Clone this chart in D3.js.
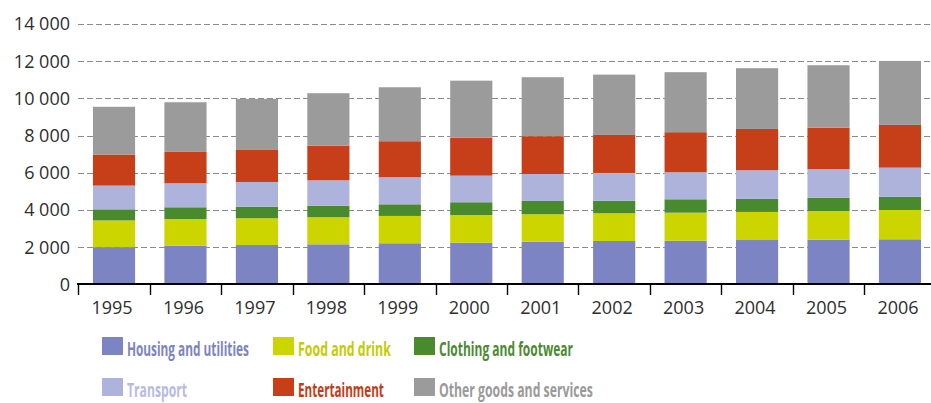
<!DOCTYPE html>
<html>
<head>
<meta charset="utf-8">
<script src="https://cdn.jsdelivr.net/npm/d3@7"></script>
<style>
  html, body { margin: 0; padding: 0; background: #fff; }
  svg { display: block; }
</style>
</head>
<body>
<div id="chart-area"></div>
<script>
// data
const years = ['1995', '1996', '1997', '1998', '1999', '2000', '2001', '2002', '2003', '2004', '2005', '2006'];
const housing = [2010, 2085, 2125, 2160, 2215, 2245, 2300, 2340, 2355, 2390, 2410, 2430];
const food = [1435, 1435, 1435, 1455, 1470, 1490, 1475, 1490, 1505, 1510, 1540, 1575];
const clothing = [595, 630, 625, 620, 625, 685, 715, 675, 720, 700, 715, 715];
const transport = [1275, 1290, 1325, 1365, 1455, 1430, 1450, 1490, 1450, 1540, 1530, 1560];
const entertainment = [1670, 1685, 1720, 1860, 1935, 2040, 2030, 2045, 2155, 2220, 2235, 2295];
const other = [2565, 2670, 2745, 2820, 2900, 3065, 3170, 3240, 3225, 3265, 3355, 3440];
const seriesNames = ['Housing and utilities', 'Food and drink', 'Clothing and footwear',
                     'Transport', 'Entertainment', 'Other goods and services'];
const yTicks = [0, 2000, 4000, 6000, 8000, 10000, 12000, 14000];

const colors = ['#7d84c3', '#cdd500', '#4a8a2e', '#aeb3dc', '#c63f18', '#9b9b9b'];
const textColors = ['#7c83c2', '#c3cc00', '#4b8a2f', '#b7bbe0', '#c23b17', '#9a9a9a'];

const width = 931, height = 403;

const svg = d3.select('#chart-area')
    .append('svg')
        .attr('width', width)
        .attr('height', height);

// build rows for the stack
const keys = ['housing', 'food', 'clothing', 'transport', 'entertainment', 'other'];
const cols = [housing, food, clothing, transport, entertainment, other];
const rows = years.map((yr, i) => {
    const r = { year: yr };
    keys.forEach((k, j) => r[k] = cols[j][i]);
    return r;
});
const stacked = d3.stack().keys(keys)(rows);

// scales
const x = d3.scaleBand()
    .domain(years)
    .range([78.3, 935.7])
    .paddingInner(0.41)
    .paddingOuter(0.205);

const y = d3.scaleLinear()
    .domain([0, 14000])
    .range([284.5, 24]);

const fmt = d3.formatLocale({ decimal: '.', thousands: ' ', grouping: [3], currency: ['', ''] }).format(',d');

// dashed gridlines
svg.append('g')
    .selectAll('line')
    .data(yTicks.filter(d => d > 0))
    .join('line')
        .attr('x1', 78)
        .attr('x2', width)
        .attr('y1', d => Math.round(y(d)) + 0.5)
        .attr('y2', d => Math.round(y(d)) + 0.5)
        .attr('stroke', '#8a8a8a')
        .attr('stroke-width', 1)
        .attr('stroke-dasharray', '6,3');

// y-axis labels
svg.append('g')
    .selectAll('text')
    .data(yTicks)
    .join('text')
        .attr('x', 70)
        .attr('y', d => y(d))
        .attr('dy', '0.35em')
        .attr('text-anchor', 'end')
        .attr('font-family', '"Open Sans", sans-serif')
        .attr('font-size', 18)
        .attr('fill', '#2e2e2e')
        .text(d => fmt(d));

// bars
svg.append('g')
    .selectAll('g')
    .data(stacked)
    .join('g')
        .attr('fill', (d, i) => colors[i])
    .selectAll('rect')
    .data(d => d)
    .join('rect')
        .attr('x', d => x(d.data.year))
        .attr('y', d => y(d[1]))
        .attr('width', x.bandwidth())
        .attr('height', d => y(d[0]) - y(d[1]));

// x-axis
const step = x.step();
const boundaries = d3.range(years.length).map(i => x(years[i]) - step * x.paddingOuter());
const axis = svg.append('g');
axis.append('line')
    .attr('x1', 77)
    .attr('x2', width)
    .attr('y1', 284)
    .attr('y2', 284)
    .attr('stroke', '#000')
    .attr('stroke-width', 2.2);
axis.selectAll('.tick')
    .data(boundaries)
    .join('line')
        .attr('class', 'tick')
        .attr('x1', d => Math.round(d) + 0.5)
        .attr('x2', d => Math.round(d) + 0.5)
        .attr('y1', 284)
        .attr('y2', 295)
        .attr('stroke', '#000')
        .attr('stroke-width', 1.4);
axis.selectAll('.label')
    .data(years)
    .join('text')
        .attr('class', 'label')
        .attr('x', d => x(d) + x.bandwidth() / 2 - 2)
        .attr('y', 314)
        .attr('text-anchor', 'middle')
        .attr('font-family', '"Open Sans", sans-serif')
        .attr('font-size', 18)
        .attr('fill', '#2e2e2e')
        .text(d => d);

// legend
const legendX = [102, 273, 414];
const legendY = [337, 378];
const legendLen = [122, 93, 134, 60, 86, 154];
const legend = svg.append('g')
    .selectAll('g')
    .data(seriesNames)
    .join('g')
        .attr('transform', (d, i) => `translate(${legendX[i % 3]}, ${legendY[Math.floor(i / 3)]})`);
legend.append('rect')
    .attr('width', 21)
    .attr('height', 18)
    .attr('fill', (d, i) => colors[i]);
// condensed look: squeeze each label horizontally to the reference width
legend.append('text')
    .attr('font-family', '"Open Sans", sans-serif')
    .attr('font-weight', 'bold')
    .attr('font-size', 19.5)
    .attr('fill', (d, i) => textColors[i])
    .text(d => d)
    .attr('transform', function (d, i) {
        const w = this.getComputedTextLength();
        return `translate(25, 19) scale(${legendLen[i] / w}, 1)`;
    });
</script>
</body>
</html>
